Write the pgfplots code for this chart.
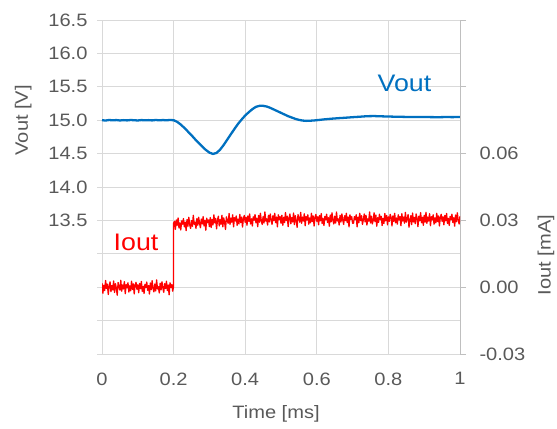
\documentclass[border=0pt]{standalone}
\usepackage{pgfplots}
\pgfplotsset{compat=1.18}
\usepackage{fontspec}
\setmainfont{Liberation Sans}[FakeStretch=1.12]
\definecolor{txt}{RGB}{89,89,89}
\definecolor{grd}{RGB}{217,217,217}
\definecolor{grd2}{RGB}{191,191,191}
\definecolor{vblue}{RGB}{0,112,192}
\begin{document}
\begin{tikzpicture}
\begin{axis}[
  at={(102bp,75bp)}, anchor=south west,
  scale only axis, width=358bp, height=334bp,
  xmin=0, xmax=1, ymin=11.5, ymax=16.5,
  xtick={0,0.2,0.4,0.6,0.8,1},
  xticklabels={0,0.2,0.4,0.6,0.8,1},
  ytick={11.5,12,12.5,13,13.5,14,14.5,15,15.5,16,16.5},
  yticklabels={,,,,13.5,14.0,14.5,15.0,15.5,16.0,16.5},
  ytick pos=left, xtick pos=bottom,
  tick align=outside, major tick length=5bp,
  tick style={grd, line width=0.75bp},
  xtick style={draw=none},
  axis line style={grd, line width=0.75bp},
  grid=major, major grid style={grd, line width=0.75bp},
  tick label style={font=\fontsize{18}{18}\selectfont, text=txt},
  /pgf/number format/assume math mode=true,
  xticklabel style={yshift=-10bp},
  yticklabel style={xshift=-6bp},
  xlabel={Time [ms]}, ylabel={Vout [V]},
  label style={font=\fontsize{18}{18}\selectfont, text=txt},
  xlabel style={at={(rel axis cs:0.486,-0.18)}, anchor=center},
  ylabel style={at={(rel axis cs:-0.22,0.70)}, anchor=center},
  clip=false,
]
\addplot[vblue, line width=2.3pt, line join=round] table {
0.00 15.000
0.01 14.995
0.02 15.003
0.03 14.998
0.04 15.002
0.05 14.996
0.06 15.001
0.07 14.997
0.08 15.003
0.09 14.999
0.10 14.996
0.11 15.002
0.12 14.998
0.13 15.001
0.14 14.997
0.15 15.003
0.16 14.998
0.17 15.002
0.18 14.999
0.19 15.003
0.20 15.000
0.21 14.975
0.22 14.935
0.23 14.885
0.24 14.830
0.25 14.775
0.26 14.715
0.27 14.660
0.28 14.605
0.29 14.555
0.30 14.515
0.31 14.495
0.32 14.510
0.33 14.560
0.34 14.630
0.35 14.710
0.36 14.790
0.37 14.870
0.38 14.945
0.39 15.010
0.40 15.070
0.41 15.120
0.42 15.165
0.43 15.200
0.44 15.215
0.45 15.215
0.46 15.205
0.47 15.185
0.48 15.160
0.49 15.135
0.50 15.110
0.51 15.085
0.52 15.060
0.53 15.040
0.54 15.020
0.55 15.005
0.56 14.995
0.57 14.990
0.58 14.992
0.59 14.995
0.60 15.000
0.62 15.012
0.64 15.022
0.66 15.030
0.68 15.037
0.70 15.045
0.72 15.052
0.74 15.060
0.76 15.062
0.78 15.058
0.80 15.055
0.82 15.052
0.84 15.050
0.86 15.048
0.88 15.047
0.90 15.048
0.92 15.046
0.94 15.045
0.96 15.047
0.98 15.046
1.00 15.048
};
\node[text=vblue, font=\fontsize{24}{24}\selectfont] at (axis cs:0.845,15.55) {Vout};
\node[text=red, font=\fontsize{24}{24}\selectfont] at (axis cs:0.095,13.17) {Iout};
\end{axis}
\begin{axis}[
  at={(102bp,75bp)}, anchor=south west,
  scale only axis, width=358bp, height=334bp,
  xmin=0, xmax=1, ymin=-0.03, ymax=0.12,
  hide x axis,
  axis y line*=right,
  y axis line style={-, grd2, line width=0.75bp},
  ytick={-0.03,0,0.03,0.06,0.09,0.12},
  yticklabels={-0.03,0.00,0.03,0.06,,},
  tick align=outside, major tick length=6bp,
  tick style={grd2, line width=0.75bp},
  tick label style={font=\fontsize{18}{18}\selectfont, text=txt},
  yticklabel style={xshift=10bp},
  /pgf/number format/assume math mode=true,
]
\addplot[red, line width=1.3pt, line join=round] table {
0.0000 0.0018
0.0025 -0.0027
0.0050 0.0009
0.0075 -0.0015
0.0100 0.0030
0.0125 -0.0006
0.0150 0.0014
0.0175 -0.0033
0.0200 0.0005
0.0225 0.0024
0.0250 -0.0020
0.0275 0.0008
0.0300 -0.0012
0.0325 0.0028
0.0350 -0.0024
0.0375 0.0016
0.0400 -0.0004
0.0425 -0.0036
0.0450 0.0021
0.0475 0.0003
0.0500 -0.0013
0.0525 0.0031
0.0550 -0.0018
0.0575 0.0010
0.0600 -0.0008
0.0625 0.0025
0.0650 -0.0029
0.0675 0.0012
0.0700 -0.0003
0.0725 0.0020
0.0750 -0.0022
0.0775 0.0006
0.0800 -0.0016
0.0825 0.0027
0.0850 -0.0010
0.0875 0.0015
0.0900 -0.0030
0.0925 0.0009
0.0950 0.0022
0.0975 -0.0009
0.1000 0.0011
0.1025 -0.0025
0.1050 0.0017
0.1075 -0.0007
0.1100 0.0026
0.1125 -0.0019
0.1150 0.0004
0.1175 -0.0028
0.1200 0.0013
0.1225 -0.0002
0.1250 0.0023
0.1275 -0.0014
0.1300 0.0007
0.1325 -0.0031
0.1350 0.0019
0.1375 -0.0011
0.1400 0.0029
0.1425 -0.0005
0.1450 -0.0021
0.1475 0.0014
0.1500 -0.0017
0.1525 0.0033
0.1550 -0.0008
0.1575 0.0002
0.1600 -0.0026
0.1625 0.0018
0.1650 -0.0012
0.1675 0.0024
0.1700 -0.0003
0.1725 -0.0023
0.1750 0.0016
0.1775 -0.0006
0.1800 0.0027
0.1825 -0.0015
0.1850 0.0010
0.1875 -0.0034
0.1900 0.0020
0.1925 -0.0001
0.1950 0.0012
0.1975 -0.0018
0.2000 0.0004
0.2000 0.0288
0.2025 0.0296
0.2050 0.0260
0.2075 0.0302
0.2100 0.0278
0.2125 0.0311
0.2150 0.0266
0.2175 0.0289
0.2200 0.0257
0.2225 0.0298
0.2250 0.0283
0.2275 0.0308
0.2300 0.0271
0.2325 0.0292
0.2350 0.0254
0.2375 0.0304
0.2400 0.0274
0.2425 0.0314
0.2450 0.0280
0.2475 0.0264
0.2500 0.0299
0.2525 0.0273
0.2550 0.0323
0.2575 0.0282
0.2600 0.0292
0.2625 0.0264
0.2650 0.0308
0.2675 0.0278
0.2700 0.0314
0.2725 0.0287
0.2750 0.0267
0.2775 0.0306
0.2800 0.0284
0.2825 0.0317
0.2850 0.0275
0.2875 0.0300
0.2900 0.0256
0.2925 0.0310
0.2950 0.0289
0.2975 0.0302
0.3000 0.0272
0.3025 0.0313
0.3050 0.0268
0.3075 0.0304
0.3100 0.0280
0.3125 0.0325
0.3150 0.0289
0.3175 0.0309
0.3200 0.0262
0.3225 0.0300
0.3250 0.0319
0.3275 0.0275
0.3300 0.0303
0.3325 0.0283
0.3350 0.0323
0.3375 0.0271
0.3400 0.0311
0.3425 0.0291
0.3450 0.0259
0.3475 0.0316
0.3500 0.0298
0.3525 0.0287
0.3550 0.0331
0.3575 0.0282
0.3600 0.0310
0.3625 0.0292
0.3650 0.0325
0.3675 0.0271
0.3700 0.0312
0.3725 0.0297
0.3750 0.0320
0.3775 0.0278
0.3800 0.0306
0.3825 0.0284
0.3850 0.0327
0.3875 0.0290
0.3900 0.0315
0.3925 0.0270
0.3950 0.0309
0.3975 0.0322
0.4000 0.0291
0.4025 0.0314
0.4050 0.0278
0.4075 0.0320
0.4100 0.0296
0.4125 0.0329
0.4150 0.0284
0.4175 0.0307
0.4200 0.0275
0.4225 0.0316
0.4250 0.0301
0.4275 0.0326
0.4300 0.0289
0.4325 0.0310
0.4350 0.0272
0.4375 0.0322
0.4400 0.0292
0.4425 0.0332
0.4450 0.0298
0.4475 0.0282
0.4500 0.0317
0.4525 0.0288
0.4550 0.0338
0.4575 0.0297
0.4600 0.0307
0.4625 0.0279
0.4650 0.0323
0.4675 0.0293
0.4700 0.0329
0.4725 0.0302
0.4750 0.0282
0.4775 0.0321
0.4800 0.0299
0.4825 0.0332
0.4850 0.0290
0.4875 0.0315
0.4900 0.0271
0.4925 0.0325
0.4950 0.0304
0.4975 0.0317
0.5000 0.0287
0.5025 0.0323
0.5050 0.0278
0.5075 0.0314
0.5100 0.0290
0.5125 0.0335
0.5150 0.0299
0.5175 0.0319
0.5200 0.0272
0.5225 0.0310
0.5250 0.0329
0.5275 0.0285
0.5300 0.0313
0.5325 0.0293
0.5350 0.0333
0.5375 0.0281
0.5400 0.0321
0.5425 0.0301
0.5450 0.0269
0.5475 0.0326
0.5500 0.0308
0.5525 0.0292
0.5550 0.0336
0.5575 0.0287
0.5600 0.0315
0.5625 0.0297
0.5650 0.0330
0.5675 0.0276
0.5700 0.0317
0.5725 0.0302
0.5750 0.0325
0.5775 0.0283
0.5800 0.0311
0.5825 0.0289
0.5850 0.0332
0.5875 0.0295
0.5900 0.0320
0.5925 0.0275
0.5950 0.0314
0.5975 0.0327
0.6000 0.0296
0.6025 0.0316
0.6050 0.0280
0.6075 0.0322
0.6100 0.0298
0.6125 0.0331
0.6150 0.0286
0.6175 0.0309
0.6200 0.0277
0.6225 0.0318
0.6250 0.0303
0.6275 0.0328
0.6300 0.0291
0.6325 0.0312
0.6350 0.0274
0.6375 0.0324
0.6400 0.0294
0.6425 0.0334
0.6450 0.0300
0.6475 0.0284
0.6500 0.0319
0.6525 0.0288
0.6550 0.0338
0.6575 0.0297
0.6600 0.0307
0.6625 0.0279
0.6650 0.0323
0.6675 0.0293
0.6700 0.0329
0.6725 0.0302
0.6750 0.0282
0.6775 0.0321
0.6800 0.0299
0.6825 0.0332
0.6850 0.0290
0.6875 0.0315
0.6900 0.0271
0.6925 0.0325
0.6950 0.0304
0.6975 0.0317
0.7000 0.0287
0.7025 0.0287
0.7050 0.0317
0.7075 0.0304
0.7100 0.0325
0.7125 0.0271
0.7150 0.0315
0.7175 0.0290
0.7200 0.0332
0.7225 0.0299
0.7250 0.0321
0.7275 0.0282
0.7300 0.0302
0.7325 0.0329
0.7350 0.0293
0.7375 0.0323
0.7400 0.0279
0.7425 0.0307
0.7450 0.0297
0.7475 0.0338
0.7500 0.0288
0.7525 0.0319
0.7550 0.0284
0.7575 0.0300
0.7600 0.0334
0.7625 0.0294
0.7650 0.0324
0.7675 0.0274
0.7700 0.0312
0.7725 0.0291
0.7750 0.0328
0.7775 0.0303
0.7800 0.0318
0.7825 0.0277
0.7850 0.0309
0.7875 0.0286
0.7900 0.0331
0.7925 0.0298
0.7950 0.0322
0.7975 0.0280
0.8000 0.0316
0.8025 0.0296
0.8050 0.0327
0.8075 0.0314
0.8100 0.0275
0.8125 0.0320
0.8150 0.0295
0.8175 0.0332
0.8200 0.0289
0.8225 0.0311
0.8250 0.0283
0.8275 0.0325
0.8300 0.0302
0.8325 0.0317
0.8350 0.0276
0.8375 0.0330
0.8400 0.0297
0.8425 0.0315
0.8450 0.0287
0.8475 0.0336
0.8500 0.0292
0.8525 0.0308
0.8550 0.0326
0.8575 0.0269
0.8600 0.0301
0.8625 0.0321
0.8650 0.0281
0.8675 0.0333
0.8700 0.0293
0.8725 0.0313
0.8750 0.0285
0.8775 0.0329
0.8800 0.0310
0.8825 0.0272
0.8850 0.0319
0.8875 0.0299
0.8900 0.0335
0.8925 0.0290
0.8950 0.0314
0.8975 0.0278
0.9000 0.0323
0.9025 0.0292
0.9050 0.0336
0.9075 0.0287
0.9100 0.0315
0.9125 0.0297
0.9150 0.0330
0.9175 0.0276
0.9200 0.0317
0.9225 0.0302
0.9250 0.0325
0.9275 0.0283
0.9300 0.0311
0.9325 0.0289
0.9350 0.0332
0.9375 0.0295
0.9400 0.0320
0.9425 0.0275
0.9450 0.0314
0.9475 0.0327
0.9500 0.0296
0.9525 0.0316
0.9550 0.0280
0.9575 0.0322
0.9600 0.0298
0.9625 0.0331
0.9650 0.0286
0.9675 0.0309
0.9700 0.0277
0.9725 0.0318
0.9750 0.0303
0.9775 0.0328
0.9800 0.0291
0.9825 0.0312
0.9850 0.0274
0.9875 0.0324
0.9900 0.0294
0.9925 0.0334
0.9950 0.0300
0.9975 0.0284
1.0000 0.0319
};
\end{axis}
\node[rotate=90, text=txt, font=\fontsize{18}{18}\selectfont, anchor=center] at (546bp,174bp) {Iout [mA]};
\pgfresetboundingbox
\path[use as bounding box] (0,0) rectangle (557bp,429bp);
\end{tikzpicture}
\end{document}
